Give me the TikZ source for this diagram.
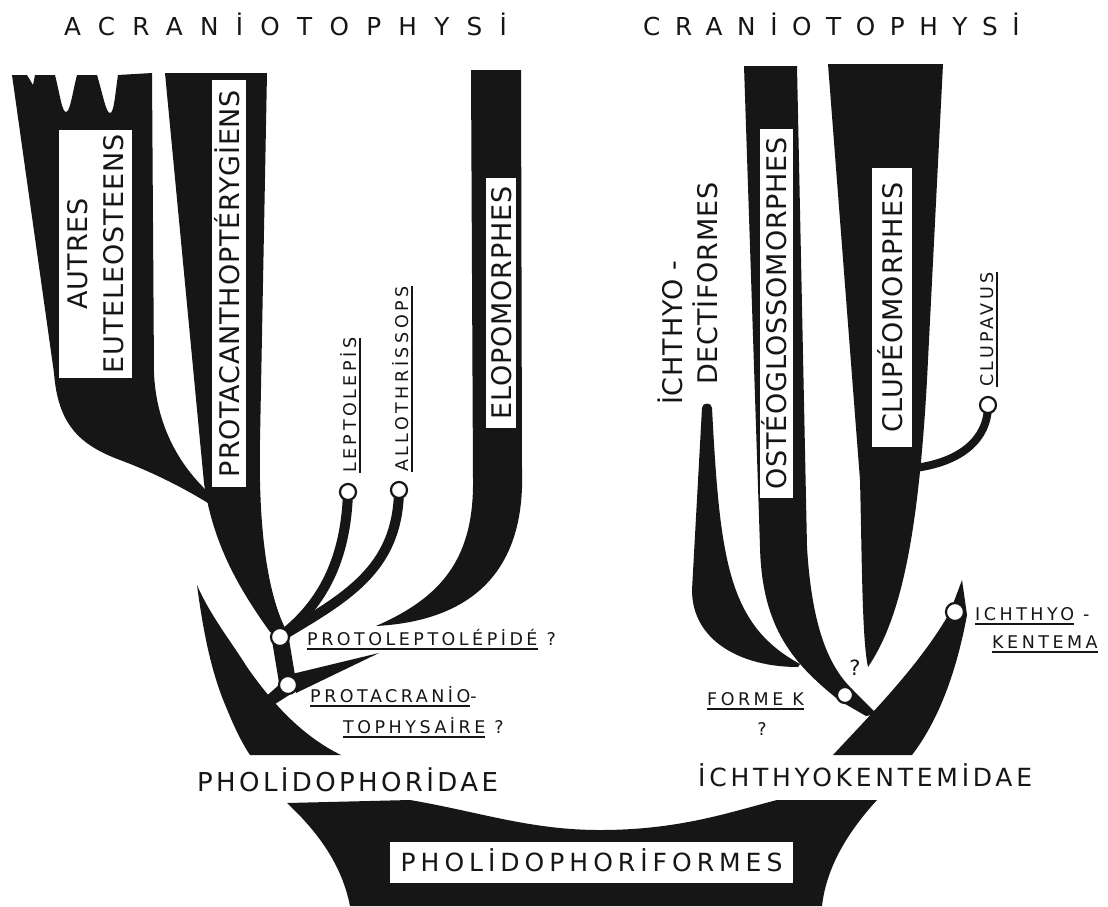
\documentclass[tikz,border=0pt]{standalone}
\usepackage{fontspec}
\setmainfont{DejaVu Sans}
\usepackage{xcolor}
\usepackage{tikz}
\usetikzlibrary{backgrounds}
\definecolor{ink}{RGB}{22,22,22}
\newcommand{\spaced}[2]{\fontsize{#1}{#1}\selectfont\addfontfeatures{LetterSpace=#2}}
\newsavebox{\undrbox}
\newcommand{\undr}[1]{\sbox{\undrbox}{#1}\rlap{\rule[-4.5pt]{\wd\undrbox}{1.8pt}}\usebox{\undrbox}}

\begin{document}
\begin{tikzpicture}[x=1pt, y=-1pt,
  band/.style={fill=ink},
  twig/.style={draw=ink, line width=10pt},
  fossil/.style={circle, draw=ink, fill=white, line width=2.2pt, inner sep=0pt,
                 minimum size=16pt},
  whitebox/.style={fill=white, inner sep=0pt, text=ink},
  boxlbl/.style={whitebox, rotate=90, text height=20pt, text depth=0pt,
                 font={\spaced{27}{3}}},
  tag/.style={anchor=base west, inner sep=0pt, text=ink, font={\spaced{17.5}{20}}},
  vtag/.style={tag, rotate=90},
  biglbl/.style={anchor=base west, inner sep=0pt, text=ink}
]
  \useasboundingbox (0,0) rectangle (1108,906);

  % Group titles
  \node[biglbl, font={\spaced{24.7}{70}}] (acrtitle) at (64,35) {ACRANİOTOPHYSİ};
  \node[biglbl, font={\spaced{24.7}{59}}] (crtitle) at (643,35) {CRANİOTOPHYSİ};

  % Labels in the branches
  \node[whitebox, rotate=90, minimum width=248pt, minimum height=73pt, align=center,
        font={\fontsize{27}{36}\selectfont\addfontfeatures{LetterSpace=3}}]
       (autres) at (95.5,254) {AUTRES\\EUTELEOSTEENS};
  \node[boxlbl, minimum width=407pt, minimum height=34pt] (protac) at (229,283.5) {PROTACANTHOPTÉRYGİENS};
  \node[boxlbl, minimum width=250pt, minimum height=30pt] (elopo) at (501,303) {ELOPOMORPHES};
  \node[boxlbl, minimum width=369pt, minimum height=33pt] (osteo) at (776.5,313.5) {OSTÉOGLOSSOMORPHES};
  \node[boxlbl, minimum width=279pt, minimum height=40pt] (clupeo) at (892,307.5) {CLUPÉOMORPHES};
  \node[biglbl, rotate=90, font={\spaced{27}{3}}] (ichdect1) at (682,405) {İCHTHYO -};
  \node[biglbl, rotate=90, font={\spaced{27}{3}}] (ichdect2) at (717,385) {DECTİFORMES};

  % Fossil forms
  \node[fossil] (lepto) at (348,492) {};
  \node[fossil] (allo) at (399,490) {};
  \node[fossil, minimum size=18pt] (protolep) at (280,637) {};
  \node[fossil, minimum size=18pt] (protacr) at (288,685) {};
  \node[fossil] (formek) at (845,695) {};
  \node[fossil, minimum size=18pt] (ichkent) at (955,612) {};
  \node[fossil] (clupav) at (988,405) {};
  \coordinate (clupjoin) at (915,468);

  \node[vtag] (leptotag) at (356,473) {\undr{LEPTOLEPİS}};
  \node[vtag] (allotag) at (408,472) {\undr{ALLOTHRİSSOPS}};
  \node[vtag] (clupavtag) at (993,387) {\undr{CLUPAVUS}};
  \node[tag] (protoleptag) at (307,645) {\undr{PROTOLEPTOLÉPİDÉ} ?};
  \node[tag] (protacrtag) at (310,702) {\undr{PROTACRANİO}-};
  \node[tag] (tophystag) at (343,733) {\undr{TOPHYSAİRE} ?};
  \node[tag] (formektag) at (707,705) {\undr{FORME K}};
  \node[tag, anchor=base] (formekq) at (762,735) {?};
  \node[tag, anchor=base, font={\spaced{21}{0}}] (clupq) at (855,675) {?};
  \node[tag] (ichkenttag) at (975,620) {\undr{ICHTHYO} -};
  \node[tag] (kentematag) at (992,648) {\undr{KENTEMA}};

  % Families
  \node[biglbl, font={\spaced{26}{13}}] (pholidae) at (197,791) {PHOLİDOPHORİDAE};
  \node[biglbl, font={\spaced{25}{15}}] (ichkentdae) at (698,786) {İCHTHYOKENTEMİDAE};
  \node[whitebox, minimum width=403pt, minimum height=41pt, text height=18pt, text depth=0pt,
        font={\spaced{25}{20}}] (pholiformes) at (591.5,862.5) {PHOLİDOPHORİFORMES};

  \begin{scope}[on background layer]
    \fill[white] (0,0) rectangle (1108,906);
    % Acraniotophysi
    \fill[band] (12,75) -- (27,75) -- (33,85) -- (35,75) -- (55,75)
      .. controls (60,95) and (62,112) .. (66,112) .. controls (70,112) and (72,95) .. (77,75)
      -- (97,75) .. controls (103,95) and (106,113) .. (110,113)
      .. controls (114,113) and (115,95) .. (118,75) -- (152,73) -- (154,373)
      .. controls (156,420) and (175,460) .. (206,490) -- (208,503)
      .. controls (190,492) and (160,475) .. (120,460)
      .. controls (80,445) and (58,425) .. (54,373) -- cycle;
    \fill[band] (165,73) -- (267,73) -- (260,440) .. controls (258,540) and (270,600) .. (287,632)
      -- (270,632) .. controls (240,590) and (213,545) .. (204,483) -- cycle;
    \fill[band] (471,70) -- (521,70) -- (522,470) .. controls (526,590) and (450,622) .. (376,626)
      .. controls (440,598) and (474,560) .. (473,480) -- cycle;
    \draw[twig] (lepto.center) .. controls (346,560) and (322,605) .. (protolep.center);
    \draw[twig] (allo.center) .. controls (398,570) and (345,598) .. (protolep.center);
    \draw[draw=ink, line width=17pt] (protolep.center) -- (protacr.center);
    \fill[band] (292,674) -- (379,653) -- (296,693) -- cycle;
    \fill[band] (280,684) -- (297,690) -- (272,706) -- (262,700) -- cycle;
    \fill[band] (197,585) .. controls (203,630) and (210,665) .. (222,697)
      .. controls (232,722) and (240,740) .. (250,755) -- (341,755)
      .. controls (300,735) and (270,700) .. (247,667) .. controls (230,640) and (210,615) .. (197,585);
    % Craniotophysi
    \fill[band] (702,408) .. controls (702,402) and (712,402) .. (712,408)
      .. controls (720,560) and (728,625) .. (800,664) -- (798,667)
      .. controls (740,667) and (692,640) .. (692,590) -- cycle;
    \fill[band] (744,66) -- (797,66) -- (807,547) .. controls (812,630) and (830,668) .. (853,690)
      -- (877,714) -- (866,716) -- (840,701) .. controls (795,665) and (762,630) .. (760,547) -- cycle;
    \fill[band] (828,64) -- (943,64) -- (927,380) .. controls (918,540) and (900,620) .. (868,667)
      .. controls (862,640) and (862,560) .. (860,480) -- cycle;
    \draw[twig, line width=8pt] (clupav.center) .. controls (988,440) and (960,462) .. (clupjoin);
    \fill[band] (962,580) -- (967,615) .. controls (955,680) and (935,725) .. (912,755) -- (833,755)
      .. controls (870,715) and (920,665) .. (950,612) -- cycle;
    % Pholidophoriformes
    \fill[band] (287,803) -- (410,800) .. controls (480,812) and (530,830) .. (600,830)
      .. controls (680,830) and (730,812) .. (777,800) -- (877,800)
      .. controls (845,835) and (826,870) .. (822,906) -- (350,906)
      .. controls (342,865) and (318,832) .. (287,803) -- cycle;
  \end{scope}
\end{tikzpicture}
\end{document}
